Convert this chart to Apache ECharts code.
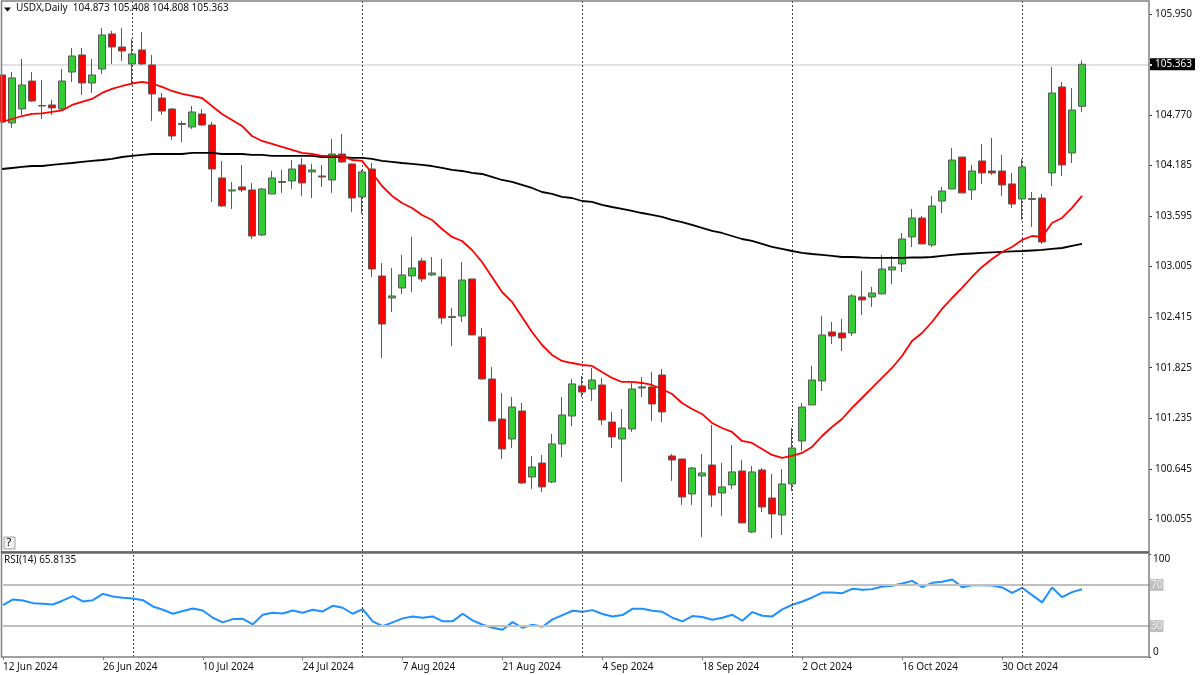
<!DOCTYPE html>
<html>
<head>
<meta charset="utf-8">
<title>USDX,Daily</title>
<style>
  html, body { margin: 0; padding: 0; background: #fff; }
  #chart { width: 1200px; height: 675px; }
</style>
<script src="https://cdn.jsdelivr.net/npm/echarts@6/dist/echarts.min.js"></script>
</head>
<body>
<div id="chart"></div>
<script>
// ============================================================
// Data (bars 0..108)
// ============================================================

var tickLabels = ['12 Jun 2024', '26 Jun 2024', '10 Jul 2024', '24 Jul 2024', '7 Aug 2024', '21 Aug 2024',
  '4 Sep 2024', '18 Sep 2024', '2 Oct 2024', '16 Oct 2024', '30 Oct 2024'];

var priceTicks = [105.95, 105.363, 104.77, 104.185, 103.595, 103.005, 102.415, 101.825, 101.235, 100.645, 100.055];
var rsiTicks = [100, 70, 30, 0];
var periodBars = [13, 36, 58, 79, 102];

var opens = [105.239, 104.679, 104.842, 105.168, 104.877, 104.889, 104.842, 105.273, 105.472, 105.145,
  105.308, 105.717, 105.565, 105.367, 105.530, 105.355, 104.970, 104.842, 104.661, 104.632,
  104.784, 104.655, 104.038, 103.886, 103.933, 103.898, 103.373, 103.851, 103.985, 104.003,
  104.189, 104.108, 104.061, 104.014, 104.317, 104.201, 103.816, 104.142, 102.895, 102.638,
  102.755, 102.895, 103.070, 102.907, 102.883, 102.411, 102.428, 102.860, 102.184, 101.694,
  101.227, 100.994, 101.321, 100.551, 100.714, 100.493, 100.936, 101.262, 101.612, 101.577,
  101.624, 101.192, 100.994, 101.111, 101.601, 101.601, 101.741, 100.796, 100.761, 100.353,
  100.563, 100.691, 100.365, 100.458, 100.621, 99.910, 100.633, 100.306, 100.108, 100.470,
  100.971, 101.391, 101.671, 102.242, 102.230, 102.230, 102.650, 102.650, 102.685, 102.965,
  103.035, 103.350, 103.571, 103.256, 103.769, 103.909, 104.282, 103.898, 104.236, 104.119,
  104.119, 103.968, 103.793, 103.787, 103.804, 104.096, 105.099, 104.329, 104.873];

var closes = [104.690, 105.204, 105.122, 104.935, 104.883, 104.854, 105.168, 105.460, 105.145, 105.239,
  105.705, 105.565, 105.518, 105.483, 105.367, 105.017, 104.818, 104.527, 104.673, 104.807,
  104.655, 104.142, 103.711, 103.898, 103.898, 103.361, 103.909, 104.038, 103.997, 104.142,
  103.979, 104.131, 104.049, 104.317, 104.224, 103.804, 104.108, 102.976, 102.335, 102.662,
  102.907, 102.988, 102.860, 102.930, 102.405, 102.423, 102.848, 102.207, 101.694, 101.204,
  100.878, 101.367, 100.481, 100.668, 100.435, 100.936, 101.274, 101.636, 101.542, 101.682,
  101.216, 101.018, 101.122, 101.577, 101.589, 101.402, 101.309, 100.749, 100.318, 100.656,
  100.598, 100.341, 100.435, 100.610, 100.015, 100.610, 100.201, 100.120, 100.470, 100.889,
  101.367, 101.682, 102.207, 102.195, 102.172, 102.662, 102.615, 102.697, 102.976, 103.000,
  103.326, 103.571, 103.268, 103.711, 103.886, 104.247, 103.863, 104.119, 104.096, 104.096,
  103.956, 103.734, 104.166, 103.799, 103.291, 105.029, 104.189, 104.830, 105.363];

var lows = [104.212, 104.621, 104.772, 104.924, 104.725, 104.772, 104.818, 105.157, 105.006, 105.029,
  105.250, 105.367, 105.402, 105.133, 105.355, 104.702, 104.772, 104.481, 104.457, 104.609,
  104.644, 103.758, 103.699, 103.676, 103.874, 103.326, 103.361, 103.851, 103.863, 103.909,
  103.828, 103.804, 103.933, 103.863, 104.212, 103.641, 103.618, 102.883, 101.939, 102.475,
  102.685, 102.708, 102.825, 102.895, 102.335, 102.079, 102.358, 102.207, 101.682, 101.204,
  100.761, 100.889, 100.470, 100.411, 100.377, 100.481, 100.784, 101.146, 101.484, 101.437,
  101.157, 100.889, 100.493, 101.076, 101.484, 101.204, 101.192, 100.505, 100.225, 100.225,
  99.852, 100.201, 100.096, 100.411, 100.015, 99.898, 100.143, 99.840, 99.875, 100.388,
  100.854, 101.391, 101.554, 102.102, 102.020, 102.195, 102.440, 102.533, 102.685, 102.801,
  102.941, 103.233, 103.268, 103.233, 103.629, 103.909, 103.863, 103.781, 103.968, 104.073,
  103.828, 103.688, 103.548, 103.466, 103.268, 103.944, 104.061, 104.212, 104.808];

var highs = [105.297, 105.273, 105.425, 105.273, 105.180, 104.947, 105.308, 105.553, 105.553, 105.425,
  105.787, 105.752, 105.787, 105.658, 105.740, 105.472, 105.029, 104.854, 104.702, 104.877,
  104.842, 104.691, 104.236, 103.991, 104.189, 103.979, 103.921, 104.119, 104.131, 104.247,
  104.271, 104.201, 104.189, 104.492, 104.551, 104.201, 104.131, 104.212, 103.046, 102.988,
  103.140, 103.350, 103.105, 103.116, 103.093, 102.522, 103.058, 102.860, 102.288, 101.834,
  101.531, 101.484, 101.414, 100.796, 100.808, 101.052, 101.484, 101.694, 101.729, 101.822,
  101.706, 101.309, 101.344, 101.647, 101.717, 101.776, 101.811, 100.819, 100.761, 100.668,
  100.819, 101.157, 100.714, 100.924, 100.749, 100.679, 100.656, 100.586, 100.644, 101.122,
  101.414, 101.846, 102.428, 102.358, 102.393, 102.685, 102.953, 102.767, 103.140, 103.128,
  103.396, 103.676, 103.594, 103.828, 103.933, 104.387, 104.282, 104.189, 104.434, 104.504,
  104.306, 104.096, 104.259, 103.874, 103.851, 105.332, 105.157, 105.087, 105.408];

var fastMa = [104.691, 104.725, 104.760, 104.784, 104.790, 104.807, 104.825, 104.889, 104.924, 104.959,
  105.029, 105.076, 105.110, 105.139, 105.157, 105.139, 105.099, 105.052, 105.017, 104.994,
  104.970, 104.877, 104.784, 104.714, 104.644, 104.527, 104.469, 104.434, 104.399, 104.364,
  104.329, 104.317, 104.294, 104.294, 104.294, 104.247, 104.236, 104.096, 103.944, 103.828,
  103.746, 103.688, 103.606, 103.548, 103.443, 103.350, 103.303, 103.198, 103.058, 102.883,
  102.708, 102.592, 102.417, 102.242, 102.090, 101.974, 101.904, 101.880, 101.857, 101.846,
  101.776, 101.706, 101.659, 101.659, 101.647, 101.624, 101.577, 101.519, 101.414, 101.344,
  101.286, 101.181, 101.122, 101.076, 100.971, 100.948, 100.878, 100.808, 100.773, 100.796,
  100.831, 100.901, 101.029, 101.134, 101.227, 101.356, 101.472, 101.589, 101.706, 101.822,
  101.962, 102.137, 102.230, 102.358, 102.510, 102.638, 102.755, 102.883, 103.000, 103.093,
  103.175, 103.233, 103.315, 103.361, 103.350, 103.513, 103.571, 103.688, 103.828];

var slowMa = [104.142, 104.154, 104.166, 104.177, 104.177, 104.189, 104.201, 104.212, 104.224, 104.236,
  104.247, 104.259, 104.282, 104.294, 104.306, 104.317, 104.317, 104.317, 104.317, 104.329,
  104.329, 104.329, 104.317, 104.317, 104.317, 104.306, 104.306, 104.294, 104.294, 104.294,
  104.294, 104.294, 104.282, 104.282, 104.282, 104.271, 104.271, 104.259, 104.236, 104.224,
  104.212, 104.201, 104.189, 104.177, 104.154, 104.131, 104.119, 104.096, 104.084, 104.049,
  104.014, 103.991, 103.956, 103.921, 103.874, 103.851, 103.816, 103.804, 103.769, 103.758,
  103.723, 103.699, 103.676, 103.653, 103.629, 103.606, 103.583, 103.548, 103.524, 103.490,
  103.455, 103.420, 103.396, 103.361, 103.326, 103.303, 103.268, 103.233, 103.210, 103.186,
  103.163, 103.151, 103.140, 103.128, 103.116, 103.116, 103.110, 103.105, 103.105, 103.105,
  103.105, 103.110, 103.110, 103.116, 103.128, 103.140, 103.151, 103.157, 103.163, 103.169,
  103.175, 103.181, 103.186, 103.192, 103.198, 103.210, 103.221, 103.245, 103.268];

var rsiValues = [50.4, 55.9, 54.9, 52.3, 51.7, 51.0, 54.9, 59.1, 53.9, 55.2,
  61.3, 58.8, 57.5, 56.8, 55.2, 49.1, 45.9, 42.0, 44.6, 47.1,
  45.2, 38.1, 33.6, 36.8, 37.1, 31.7, 41.0, 43.0, 42.3, 45.2,
  43.0, 45.9, 44.2, 49.7, 47.8, 42.0, 46.5, 34.6, 30.0, 33.6,
  37.5, 39.4, 38.1, 39.4, 34.6, 34.6, 42.0, 35.5, 31.3, 28.4,
  26.5, 33.9, 28.4, 31.3, 29.4, 36.5, 40.7, 44.9, 43.9, 45.5,
  41.7, 39.4, 40.7, 46.8, 46.8, 44.9, 43.9, 38.1, 34.6, 39.7,
  38.8, 36.2, 38.1, 41.0, 35.2, 43.6, 40.0, 39.4, 46.2, 50.7,
  53.9, 57.8, 62.6, 62.6, 62.0, 66.2, 65.2, 65.9, 68.4, 69.1,
  71.4, 73.9, 67.8, 72.0, 73.0, 75.2, 67.8, 69.7, 69.7, 69.4,
  67.5, 62.3, 67.2, 60.1, 53.0, 67.5, 58.1, 63.0, 65.81];

// ============================================================
// Build
// ============================================================

var FONT = '"Noto Sans", sans-serif';
var TEXT_COLOR = '#111';
var FRAME_COLOR = '#808080';
var BAR_SLOTS = 116; // the chart leaves empty room right of the last bar

var categories = [];
for (var i = 0; i < BAR_SLOTS; i++) {
  categories.push(i % 10 === 0 && tickLabels[i / 10] ? tickLabels[i / 10] : '');
}

var candles = opens.map(function(open, index) {
  return [open, closes[index], lows[index], highs[index]];
});

var lastClose = closes[closes.length - 1];

function isDateTick(index) {
  return index % 10 === 0 && index <= 100;
}

function periodLines() {
  return periodBars.map(function(bar) {
    return { xAxis: bar, lineStyle: { color: '#444', width: 1, type: [2, 2] } };
  });
}

var chart = echarts.init(document.getElementById('chart'), null, { renderer: 'canvas' });

chart.setOption({
  animation: false,
  backgroundColor: '#fff',
  textStyle: { fontFamily: FONT },
  grid: [
    { left: 2, width: 1150, top: 1, height: 550 },
    { left: 2, width: 1150, top: 554, height: 103 },
  ],
  xAxis: [
    {
      type: 'category',
      gridIndex: 0,
      data: categories,
      boundaryGap: false,
      axisLine: { show: false },
      axisTick: { show: false },
      axisLabel: { show: false },
    },
    {
      type: 'category',
      gridIndex: 1,
      data: categories,
      boundaryGap: false,
      axisLine: { show: false },
      axisTick: { interval: isDateTick, length: 3, lineStyle: { color: FRAME_COLOR } },
      axisLabel: {
        interval: isDateTick,
        align: 'left',
        margin: 5,
        fontFamily: FONT,
        fontSize: 10,
        color: TEXT_COLOR,
      },
    },
  ],
  yAxis: [
    {
      type: 'value',
      gridIndex: 0,
      position: 'right',
      offset: -3,
      min: 99.688,
      max: 106.101,
      splitLine: { show: false },
      axisLine: { show: false },
      axisTick: { show: true, length: 3, customValues: priceTicks, lineStyle: { color: '#333' } },
      axisLabel: {
        customValues: priceTicks,
        margin: 1,
        fontFamily: FONT,
        fontSize: 10,
        color: TEXT_COLOR,
        formatter: function(value) {
          var text = value.toFixed(3);
          return value === lastClose ? '{current|' + text + '}' : '{price|' + text + '}';
        },
        rich: {
          price: { fontFamily: FONT, fontSize: 10, color: TEXT_COLOR, padding: [0, 0, 0, 5] },
          current: { fontFamily: FONT, fontSize: 10, color: '#fff', backgroundColor: '#000', padding: [1, 3, 1, 5] },
        },
      },
    },
    {
      type: 'value',
      gridIndex: 1,
      position: 'right',
      offset: -3,
      min: 0,
      max: 100,
      splitLine: { show: false },
      axisLine: { show: false },
      axisTick: { show: true, length: 2, customValues: rsiTicks, lineStyle: { color: '#333' } },
      axisLabel: {
        customValues: rsiTicks,
        margin: 1,
        verticalAlignMaxLabel: 'bottom',
        verticalAlignMinLabel: 'top',
        fontFamily: FONT,
        fontSize: 10,
        color: TEXT_COLOR,
        formatter: function(value) {
          return value === 70 || value === 30 ? '{level|' + value + '}' : '{plain|' + value + '}';
        },
        rich: {
          plain: { fontFamily: FONT, fontSize: 10, color: TEXT_COLOR, padding: [0, 0, 0, 3] },
          level: { fontFamily: FONT, fontSize: 10, color: '#ececec', backgroundColor: '#c0c0c0', padding: [1, 1, 1, 1] },
        },
      },
    },
  ],
  series: [
    {
      name: 'USDX',
      type: 'candlestick',
      xAxisIndex: 0,
      yAxisIndex: 0,
      barWidth: 7,
      data: candles,
      itemStyle: {
        color: '#32CD32',
        color0: '#FF0000',
        borderColor: '#5a5a5a',
        borderColor0: '#5a5a5a',
        borderColorDoji: '#5a5a5a',
        borderWidth: 1,
      },
      markLine: {
        silent: true,
        symbol: 'none',
        label: { show: false },
        z: 1,
        data: [{ yAxis: lastClose, lineStyle: { color: '#e2e2e2', width: 2, type: 'solid' } }].concat(periodLines()),
      },
    },
    {
      name: 'MA slow',
      type: 'line',
      xAxisIndex: 0,
      yAxisIndex: 0,
      data: slowMa,
      symbol: 'none',
      lineStyle: { color: '#000', width: 1.8 },
    },
    {
      name: 'MA fast',
      type: 'line',
      xAxisIndex: 0,
      yAxisIndex: 0,
      data: fastMa,
      symbol: 'none',
      lineStyle: { color: '#FF0000', width: 1.8 },
    },
    {
      name: 'RSI(14)',
      type: 'line',
      xAxisIndex: 1,
      yAxisIndex: 1,
      data: rsiValues,
      symbol: 'none',
      lineStyle: { color: '#1E90FF', width: 2 },
      markLine: {
        silent: true,
        symbol: 'none',
        label: { show: false },
        z: 5,
        data: [
          { yAxis: 70, lineStyle: { color: '#c0c0c0', width: 2, type: 'solid' } },
          { yAxis: 30, lineStyle: { color: '#c0c0c0', width: 2, type: 'solid' } },
        ].concat(periodLines()),
      },
    },
  ],
  graphic: [
    // pane frames
    { type: 'rect', z: 10, silent: true, shape: { x: 1.5, y: 1, width: 1147.5, height: 551 }, style: { fill: 'none', stroke: FRAME_COLOR, lineWidth: 1.5 } },
    { type: 'rect', z: 10, silent: true, shape: { x: 1.5, y: 553, width: 1147.5, height: 104 }, style: { fill: 'none', stroke: FRAME_COLOR, lineWidth: 1.5 } },
    { type: 'line', z: 10, silent: true, shape: { x1: 1, y1: 552.3, x2: 1149, y2: 552.3 }, style: { stroke: '#666', lineWidth: 2 } },
    // header and pane captions
    { type: 'polygon', z: 11, silent: true, shape: { points: [[4, 7.5], [11, 7.5], [7.5, 11.5]] }, style: { fill: '#000' } },
    { type: 'text', z: 11, silent: true, x: 16, y: 3, style: { text: 'USDX,Daily  104.873 105.408 104.808 105.363', fill: TEXT_COLOR, font: '10px ' + FONT } },
    { type: 'text', z: 11, silent: true, x: 4, y: 555, style: { text: 'RSI(14) 65.8135', fill: TEXT_COLOR, font: '10px ' + FONT } },
    // the small help button
    { type: 'rect', z: 11, silent: true, shape: { x: 4, y: 537, width: 11, height: 12 }, style: { fill: '#f0f0f0', stroke: '#a0a0a0', lineWidth: 1 } },
    { type: 'text', z: 12, silent: true, x: 6.5, y: 537, style: { text: '?', fill: '#000', font: '11px ' + FONT } },
  ],
});
</script>
</body>
</html>
